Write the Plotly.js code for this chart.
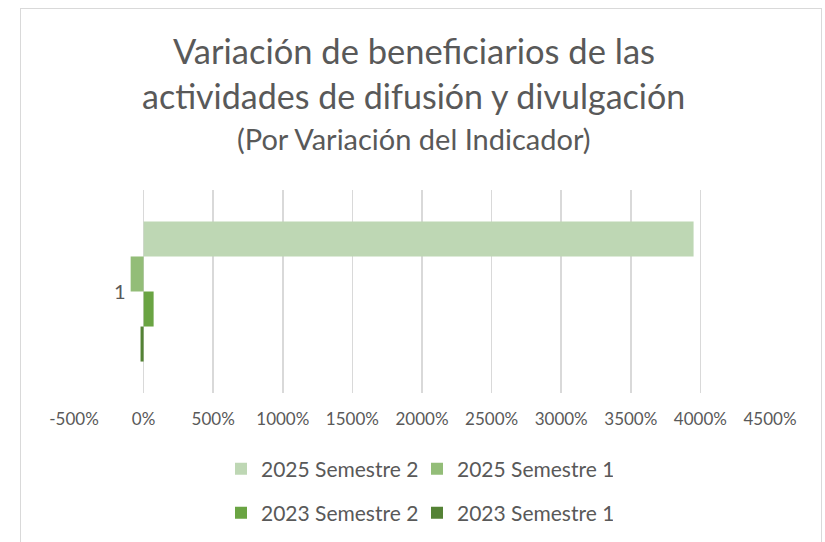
<!DOCTYPE html>
<html>
<head>
<meta charset="utf-8">
<script src="https://cdn.plot.ly/plotly-3.0.1.min.js"></script>
<style>
  html, body { margin: 0; padding: 0; background: #fff; }
  #wrap { position: relative; width: 825px; height: 542px; }
  #chart { width: 825px; height: 542px; }
  #frame { position: absolute; left: 20px; top: 8px; width: 802px; height: 560px;
           border: 1.5px solid #d9d9d9; pointer-events: none; box-sizing: border-box; }
</style>
</head>
<body>
<div id="wrap"><div id="chart"></div><div id="frame"></div></div>
<script>
// ---- data ----
const categories = ['1'];
const seriesNames = ['2023 Semestre 1', '2023 Semestre 2', '2025 Semestre 1', '2025 Semestre 2'];
const values2023S1 = [-22];
const values2023S2 = [72];
const values2025S1 = [-93];
const values2025S2 = [3951];
const tickValues = [-500, 0, 500, 1000, 1500, 2000, 2500, 3000, 3500, 4000, 4500];
const tickLabels = ['-500%', '0%', '500%', '1000%', '1500%', '2000%', '2500%', '3000%', '3500%', '4000%', '4500%'];
const titleLines = ['Variación de beneficiarios de las', 'actividades de difusión y divulgación', '(Por Variación del Indicador)'];

// ---- style ----
const colors = ['#548235', '#6aa443', '#93bd78', '#bed7b4'];
const FONT = 'Lato, "Open Sans", sans-serif';
const TXT = '#595959';
const W = 825, H = 542;
const M = { l: 74, r: 55, t: 190, b: 149 };
const plotH = H - M.t - M.b;
const py = p => (H - M.b - p) / plotH;   // pixel y -> paper y

const allValues = [values2023S1, values2023S2, values2025S1, values2025S2];
const legendOf = ['legend2', 'legend2', 'legend', 'legend'];
const traces = allValues.map((v, i) => ({
  type: 'bar', orientation: 'h', y: categories, x: v, name: seriesNames[i],
  marker: { color: colors[i] }, legend: legendOf[i], hoverinfo: 'skip'
}));

const legendStyle = (yPix) => ({
  orientation: 'h', traceorder: 'reversed', xref: 'container', yref: 'container',
  x: 221 / W, xanchor: 'left', y: 1 - yPix / H, yanchor: 'middle',
  font: { family: FONT, size: 21, color: TXT }, entrywidth: 151, bgcolor: 'rgba(0,0,0,0)'
});

const layout = {
  width: W, height: H,
  margin: M,
  paper_bgcolor: '#fff', plot_bgcolor: '#fff',
  font: { family: FONT, color: TXT },
  barmode: 'group', bargap: 0.31, bargroupgap: 0,
  showlegend: true,
  xaxis: {
    range: [-500, 4500], tickvals: tickValues, ticktext: tickLabels,
    showgrid: true, gridcolor: '#d9d9d9', gridwidth: 1.5, zeroline: false,
    showline: false, ticks: '', ticklabelstandoff: 14,
    tickfont: { family: FONT, size: 17, color: TXT }, fixedrange: true
  },
  yaxis: {
    type: 'category', range: [-0.5, 0.5], anchor: 'free', position: 0.1,
    showgrid: false, zeroline: false, showline: false, ticks: '',
    ticklabelstandoff: 18, tickfont: { family: FONT, size: 20, color: TXT }, fixedrange: true
  },
  legend: legendStyle(469),
  legend2: legendStyle(513),
  annotations: [
    { text: titleLines[0], xref: 'paper', yref: 'paper', x: 0.488, y: py(50), xanchor: 'center', yanchor: 'middle', showarrow: false, font: { family: FONT, size: 34.5, color: TXT } },
    { text: titleLines[1], xref: 'paper', yref: 'paper', x: 0.488, y: py(96), xanchor: 'center', yanchor: 'middle', showarrow: false, font: { family: FONT, size: 34, color: TXT } },
    { text: titleLines[2], xref: 'paper', yref: 'paper', x: 0.488, y: py(138), xanchor: 'center', yanchor: 'middle', showarrow: false, font: { family: FONT, size: 29, color: TXT } }
  ]
};

Plotly.newPlot('chart', traces, layout, { displayModeBar: false, staticPlot: true });
</script>
</body>
</html>
